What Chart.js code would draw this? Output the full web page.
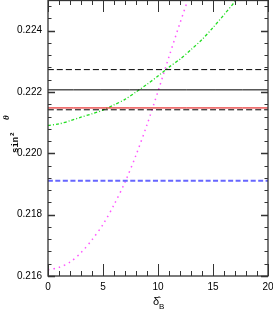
<!DOCTYPE html>
<html>
<head>
<meta charset="utf-8">
<script src="https://cdn.jsdelivr.net/npm/chart.js@4/dist/chart.umd.min.js"></script>
<style>
  html, body { margin: 0; padding: 0; background: #fff; }
  #wrap { width: 273px; height: 316px; }
</style>
</head>
<body>
<div id="wrap"><canvas id="chart"></canvas></div>
<script>
// horizontal reference values
const solidBlack = 0.22207;
const dashedBlack = [0.22273, 0.22142];
const redLine = 0.22148;
const blueLine = 0.21911;

// magenta dotted curve
const magentaX = [0, 1, 2, 3, 4, 5, 6, 7, 8, 9, 10, 11, 12, 13];
const magentaY = [0.21620, 0.21628, 0.21645, 0.21676, 0.21718, 0.21768, 0.21832, 0.21906, 0.21994, 0.22093, 0.22202, 0.22315, 0.22425, 0.22530];

// green dash-dot curve
const greenX = [0, 1, 2, 3, 4, 5, 6, 7, 8, 9, 10, 11, 12, 13, 14, 15, 16, 17, 18];
const greenY = [0.22091, 0.22096, 0.22106, 0.22118, 0.22129, 0.22141, 0.22158, 0.22176, 0.22200, 0.22225, 0.22252, 0.22281, 0.22307, 0.22338, 0.22371, 0.22410, 0.22452, 0.22495, 0.22540];

const xMajor = [0, 5, 10, 15, 20];
const yMajor = [0.216, 0.218, 0.220, 0.222, 0.224];

const xMin = 0, xMax = 20;
const yMin = 0.216, yMax = 0.225;

function pts(xs, ys) {
    return xs.map((x, i) => ({ x: x, y: ys[i] }));
}
function hline(v) {
    return [{ x: xMin, y: v }, { x: xMax, y: v }];
}

// inward ticks, frame and axis titles
const framePlugin = {
    id: 'frame',
    afterDraw(chart) {
        const ctx = chart.ctx;
        const a = chart.chartArea;
        const xs = chart.scales.x;
        const ys = chart.scales.y;
        ctx.save();
        ctx.strokeStyle = '#333';
        ctx.lineWidth = 1.3;
        ctx.strokeRect(a.left, a.top + 0.5, a.right - a.left, a.bottom - a.top - 0.5);

        ctx.lineWidth = 1;
        for (let v = xMin; v <= xMax; v++) {
            const p = Math.round(xs.getPixelForValue(v)) + 0.5;
            const len = xMajor.includes(v) ? 12 : 5;
            ctx.beginPath();
            ctx.moveTo(p, a.bottom); ctx.lineTo(p, a.bottom - len);
            ctx.moveTo(p, a.top); ctx.lineTo(p, a.top + len);
            ctx.stroke();
        }
        for (let i = 0; i <= 22; i++) {
            const v = yMin + i * 0.0004;
            if (v > yMax) break;
            const p = Math.round(ys.getPixelForValue(v)) + 0.5;
            const major = i % 5 === 0;
            const len = major ? 7 : 3.5;
            ctx.lineWidth = major ? 1.5 : 1;
            ctx.beginPath();
            ctx.moveTo(a.left, p); ctx.lineTo(a.left + len, p);
            ctx.moveTo(a.right, p); ctx.lineTo(a.right - len, p);
            ctx.stroke();
        }

        // x title: delta-hat with subscript B
        ctx.fillStyle = '#000';
        ctx.textBaseline = 'alphabetic';
        ctx.textAlign = 'left';
        const cx = xs.getPixelForValue(10);
        ctx.font = '11px "Liberation Sans Narrow", "Liberation Sans", sans-serif';
        ctx.fillText('\u03B4\u0302', cx - 5, 305);
        ctx.font = '8px "Liberation Sans Narrow", "Liberation Sans", sans-serif';
        ctx.fillText('B', cx + 1, 309);

        // y title: sin^2 theta, rotated
        ctx.translate(18, 153);
        ctx.rotate(-Math.PI / 2);
        ctx.font = 'bold 9px "Liberation Mono", monospace';
        ctx.fillText('sin', 0, 0);
        ctx.font = 'bold 6px "Liberation Mono", monospace';
        ctx.fillText('2', 17, -4);
        ctx.font = 'italic bold 9px "Liberation Serif", serif';
        ctx.fillText('\u03B8', 33, -9);
        ctx.restore();
    }
};

const ds = (data, color, dash, width) => ({
    data: data,
    borderColor: color,
    borderDash: dash,
    borderWidth: width,
    showLine: true,
    pointRadius: 0,
    tension: 0.3,
    fill: false
});

new Chart(document.getElementById('chart'), {
    type: 'scatter',
    data: {
        datasets: [
            ds(hline(dashedBlack[0]), '#000', [6, 3], 1),
            ds(hline(solidBlack), '#000', [], 1),
            ds(hline(dashedBlack[1]), '#000', [6, 3], 1),
            ds(hline(redLine), '#e00000', [], 1),
            ds(hline(blueLine), '#6666ff', [5, 2.5], 2),
            ds(pts(greenX, greenY), '#22dd22', [3, 2, 1, 2], 1.3),
            ds(pts(magentaX, magentaY), '#ff55ff', [1.5, 4], 1.5)
        ]
    },
    options: {
        responsive: true,
        maintainAspectRatio: false,
        animation: false,
        layout: { padding: { top: 0, right: 5, left: 0, bottom: 0 } },
        plugins: {
            legend: { display: false },
            tooltip: { enabled: false }
        },
        scales: {
            x: {
                type: 'linear',
                min: xMin,
                max: xMax,
                grid: { display: false, drawTicks: false },
                border: { display: false },
                ticks: {
                    stepSize: 5,
                    padding: 5,
                    color: '#000',
                    font: { family: '"Liberation Sans Narrow", "Liberation Sans", sans-serif', size: 10 },
                    maxRotation: 0
                },
                afterFit: s => { s.height = 40; s.paddingLeft = 0; s.paddingRight = 0; }
            },
            y: {
                type: 'linear',
                min: yMin,
                max: yMax,
                grid: { display: false, drawTicks: false },
                border: { display: false },
                ticks: {
                    stepSize: 0.002,
                    includeBounds: false,
                    padding: 6,
                    color: '#000',
                    font: { family: '"Liberation Sans Narrow", "Liberation Sans", sans-serif', size: 10 },
                    callback: v => yMajor.some(m => Math.abs(m - v) < 1e-9) ? v.toFixed(3) : ''
                },
                afterFit: s => { s.width = 48; s.paddingTop = 0; s.paddingBottom = 0; }
            }
        }
    },
    plugins: [framePlugin]
});
</script>
</body>
</html>
